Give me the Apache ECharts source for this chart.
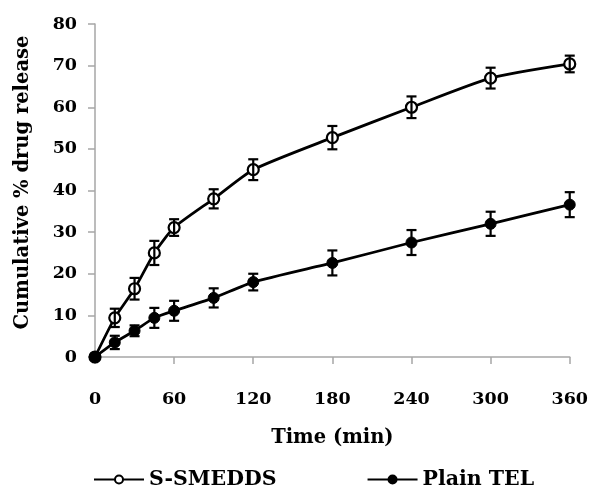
<!DOCTYPE html>
<html>
<head>
<meta charset="utf-8">
<script src="https://cdn.jsdelivr.net/npm/echarts@6/dist/echarts.min.js"></script>
<style>
  html, body { margin: 0; padding: 0; background: #fff; }
  #chart { width: 591px; height: 495px; }
</style>
</head>
<body>
<div id="chart"></div>
<script>
// 时间点 (min)
var times = [0, 15, 30, 45, 60, 90, 120, 180, 240, 300, 360];
// S-SMEDDS 释放量及误差
var smedds = [0, 9.4, 16.4, 25, 31.1, 38, 45, 52.7, 60, 67, 70.4];
var smeddsErr = [0, 2.2, 2.6, 2.9, 2, 2.3, 2.5, 2.8, 2.6, 2.5, 2];
// Plain TEL 释放量及误差
var tel = [0, 3.5, 6.3, 9.4, 11.1, 14.2, 18, 22.6, 27.5, 32, 36.6];
var telErr = [0, 1.6, 1.3, 2.4, 2.4, 2.3, 2, 3, 3, 2.9, 3];

var FONT = 'DejaVu Serif';

function pairs(y) {
    return times.map(function (t, i) { return [t, y[i]]; });
}
function errData(y, e) {
    return times.map(function (t, i) { return [t, y[i] - e[i], y[i] + e[i]]; });
}

// 误差线
function renderErr(params, api) {
    var x = api.value(0);
    var lo = api.coord([x, api.value(1)]);
    var hi = api.coord([x, api.value(2)]);
    var w = 5;
    var style = { stroke: '#000', lineWidth: 2.2 };
    return {
        type: 'group',
        children: [
            { type: 'line', shape: { x1: lo[0], y1: lo[1], x2: hi[0], y2: hi[1] }, style: style },
            { type: 'line', shape: { x1: lo[0] - w, y1: lo[1], x2: lo[0] + w, y2: lo[1] }, style: style },
            { type: 'line', shape: { x1: hi[0] - w, y1: hi[1], x2: hi[0] + w, y2: hi[1] }, style: style }
        ]
    };
}

var myChart = echarts.init(document.getElementById('chart'));

var option = {
    animation: false,
    textStyle: { fontFamily: FONT },
    grid: { left: 95, right: 21, top: 24, bottom: 138 },
    legend: {
        bottom: 0,
        left: 88,
        itemGap: 90,
        itemWidth: 50,
        itemHeight: 10,
        textStyle: { fontFamily: FONT, fontWeight: 'bold', fontSize: 20.5, color: '#000' },
        data: ['S-SMEDDS', 'Plain TEL']
    },
    xAxis: {
        type: 'value',
        min: 0,
        max: 360,
        interval: 60,
        name: 'Time (min)',
        nameLocation: 'middle',
        nameGap: 71,
        nameTextStyle: { fontFamily: FONT, fontWeight: 'bold', fontSize: 19.5, color: '#000' },
        axisLine: { lineStyle: { color: '#a6a6a6', width: 1.5 } },
        axisTick: { show: true, length: 7, lineStyle: { color: '#a6a6a6', width: 1.5 } },
        axisLabel: { margin: 33, fontFamily: FONT, fontWeight: 'bold', fontSize: 17.5, color: '#000' },
        splitLine: { show: false }
    },
    yAxis: {
        type: 'value',
        min: 0,
        max: 80,
        interval: 10,
        name: 'Cumulative % drug release',
        nameLocation: 'middle',
        nameGap: 62,
        nameTextStyle: { fontFamily: FONT, fontWeight: 'bold', fontSize: 19.5, color: '#000', padding: [0, 0, 0, 16] },
        axisLine: { show: true, lineStyle: { color: '#a6a6a6', width: 1.5 } },
        axisTick: { show: true, length: 7, lineStyle: { color: '#a6a6a6', width: 1.5 } },
        axisLabel: { margin: 18, fontFamily: FONT, fontWeight: 'bold', fontSize: 17.5, color: '#000' },
        splitLine: { show: false }
    },
    series: [
        {
            name: 'S-SMEDDS',
            type: 'line',
            smooth: 0.2,
            data: pairs(smedds),
            symbol: 'circle',
            symbolSize: 11,
            lineStyle: { color: '#000', width: 2.75 },
            itemStyle: { color: '#fff', borderColor: '#000', borderWidth: 2.2 },
            z: 3
        },
        {
            name: 'Plain TEL',
            type: 'line',
            smooth: 0.2,
            data: pairs(tel),
            symbol: 'circle',
            symbolSize: 11,
            lineStyle: { color: '#000', width: 2.75 },
            itemStyle: { color: '#000', borderColor: '#000', borderWidth: 1 },
            z: 3
        },
        {
            type: 'custom',
            renderItem: renderErr,
            data: errData(smedds, smeddsErr),
            encode: { x: 0, y: [1, 2] },
            z: 4
        },
        {
            type: 'custom',
            renderItem: renderErr,
            data: errData(tel, telErr),
            encode: { x: 0, y: [1, 2] },
            z: 4
        }
    ]
};

myChart.setOption(option);
</script>
</body>
</html>
